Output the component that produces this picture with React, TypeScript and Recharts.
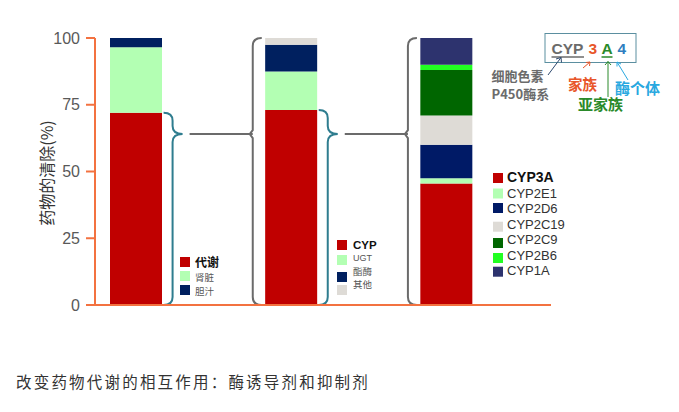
import React from "react";
import {
  BarChart,
  Bar,
  XAxis,
  YAxis,
  ReferenceLine,
  Customized,
} from "recharts";

// three stacked columns: total clearance -> metabolism -> CYP isoforms
const categories = ["总清除", "代谢", "CYP"];

const routeNames = ["代谢", "肾脏", "胆汁"];
const routeValues = [72, 24.5, 3.5];
const routeColors = ["#C00000", "#B3FFB3", "#00205F"];

const enzymeNames = ["CYP", "UGT", "酯酶", "其他"];
const enzymeValues = [73, 14.5, 10, 2.5];
const enzymeColors = ["#C00000", "#B3FFB3", "#00205F", "#DEDBD6"];

const isoformNames = ["CYP3A", "CYP2E1", "CYP2D6", "CYP2C19", "CYP2C9", "CYP2B6", "CYP1A"];
const isoformValues = [45.5, 2, 12.5, 11, 17, 2, 10];
const isoformColors = ["#C00000", "#B3FFB3", "#001A66", "#DEDBD6", "#006600", "#22FF22", "#2D336E"];

const yTicks = [0, 25, 50, 75, 100];
const BRACE_TIP = 64; // level where the braces point

const groups = [
  { names: routeNames, values: routeValues, colors: routeColors },
  { names: enzymeNames, values: enzymeValues, colors: enzymeColors },
  { names: isoformNames, values: isoformValues, colors: isoformColors },
];

const data = categories.map((cat, gi) => {
  const row: Record<string, any> = { cat };
  groups.forEach((g, gj) => {
    g.values.forEach((v, k) => {
      row[`g${gj}_${k}`] = gi === gj ? v : 0;
    });
  });
  return row;
});

const BAR_SIZE = 52;
const HALF = BAR_SIZE / 2;
const AXIS = "#F37240";
const CJK = "'Noto Sans CJK SC', sans-serif";
const LAT = "'Liberation Sans', Arial, sans-serif";

const braceOf = (top: number) => (props: any) => {
  const { x1, y1, y2 } = props;
  const tipY = y2 + (y1 - y2) * (BRACE_TIP / top);
  const x0 = x1 + HALF + 2;
  const xm = x0 + 9;
  const xt = x0 + 19;
  const r = 8;
  const d = `M${x0},${y1} Q${xm},${y1} ${xm},${y1 + r} L${xm},${tipY - r} Q${xm},${tipY} ${xt},${tipY} Q${xm},${tipY} ${xm},${tipY + r} L${xm},${y2 - r} Q${xm},${y2} ${x0},${y2}`;
  return <path d={d} fill="none" stroke="#2F7D8F" strokeWidth={2} />;
};

const LeftBracket = (props: any) => {
  const { x1, y1, y2 } = props;
  const tipY = y2 + (y1 - y2) * (BRACE_TIP / 100);
  const x0 = x1 - HALF - 3;
  const xm = x1 - HALF - 12;
  const r = 8;
  const d = `M${x0},${y1} Q${xm},${y1} ${xm},${y1 + r} L${xm},${tipY - 4} L${xm - 3},${tipY} L${xm},${tipY + 4} L${xm},${y2 - r} Q${xm},${y2} ${x0},${y2}`;
  return <path d={d} fill="none" stroke="#6B6B6B" strokeWidth={2} />;
};

const Connector = (props: any) => {
  const { x1, x2, y1 } = props;
  return <line x1={x1 + HALF + 28} x2={x2 - HALF - 12} y1={y1} y2={y1} stroke="#6B6B6B" strokeWidth={2} />;
};

// legend layout: square x, text x, square centres, text centres, font sizes
const legendLayout = [
  { sx: 180, tx: 195, sy: [262, 276, 290], ty: [261.5, 277, 290.5], fs: [12, 9.5, 9.5] },
  { sx: 337, tx: 353, sy: [245, 260, 277, 290], ty: [244.5, 258, 271, 284], fs: [11.5, 9, 9.5, 9.5] },
  {
    sx: 493,
    tx: 507,
    sy: [178, 193.5, 208, 226.7, 243, 258, 271.7],
    ty: [176.7, 193.3, 208.3, 224, 239, 255, 270.7],
    fs: [14, 13, 13, 13, 13, 13, 13],
  },
];

const Annotations = () => (
  <g>
    <text
      x={46}
      y={173}
      transform="rotate(-90 46 173)"
      textAnchor="middle"
      dominantBaseline="central"
      fontSize={16}
      fill="#333"
      fontFamily={CJK}
    >
      药物的清除(%)
    </text>

    {groups.map((g, gi) => {
      const L = legendLayout[gi];
      return (
        <g key={gi}>
          {g.names.map((n, k) => (
            <g key={n}>
              <rect x={L.sx} y={L.sy[k] - 5} width={10} height={10} fill={g.colors[k]} />
              <text
                x={L.tx}
                y={L.ty[k]}
                dominantBaseline="central"
                fontSize={L.fs[k]}
                fontWeight={k === 0 ? 700 : 400}
                fill={k === 0 ? "#111" : gi === 2 ? "#333" : "#555"}
                fontFamily={/[A-Z]/.test(n) ? LAT : CJK}
              >
                {n}
              </text>
            </g>
          ))}
        </g>
      );
    })}

    {/* CYP nomenclature key */}
    <rect x={545} y={33.5} width={91} height={29} fill="none" stroke="#5B8FA0" strokeWidth={1} />
    <text y={54} fontSize={15.5} fontWeight={700} fontFamily={LAT}>
      <tspan x={551.5} fill="#6B6B6B">CYP</tspan>
      <tspan x={588.5} fill="#E8562A">3</tspan>
      <tspan x={601.5} fill="#2A8A2A">A</tspan>
      <tspan x={617.5} fill="#2F7EC0">4</tspan>
    </text>
    <line x1={551.5} x2={584} y1={57} y2={57} stroke="#6B6B6B" strokeWidth={1.5} />
    <line x1={601.5} x2={612.5} y1={57} y2={57} stroke="#2A8A2A" strokeWidth={1.5} />

    <g fill="none" strokeWidth={1}>
      <path d="M548,75 L561,57.5 M556,59 L561,57.5 L561.5,62.5" stroke="#2E4A70" />
      <path d="M583,68 L590,62 M586,62.5 L590,62 L589.5,66" stroke="#E8562A" />
      <path d="M608,97 L608,61.5 M605,65 L608,61.5 L611,65" stroke="#2A8A2A" />
      <path d="M628,80 L617,62 M617,66.5 L617,62 L621,64" stroke="#29A8E0" />
    </g>

    <g fontFamily={CJK} fontWeight={700} dominantBaseline="central">
      <text x={491.5} y={75} fontSize={13} fill="#6B6B6B">细胞色素</text>
      <text x={491.5} y={93} fontSize={13} fill="#6B6B6B">P450酶系</text>
      <text x={568} y={83.5} fontSize={14.5} fill="#E8562A">家族</text>
      <text x={578} y={103.5} fontSize={15} fill="#2A8A2A">亚家族</text>
      <text x={615} y={87} fontSize={15} fill="#29A8E0">酶个体</text>
    </g>

    <text x={16} y={381} dominantBaseline="central" fontSize={15.5} letterSpacing={2.2} fill="#333" fontFamily={CJK}>
      改变药物代谢的相互作用：酶诱导剂和抑制剂
    </text>
  </g>
);

export default function App() {
  return (
    <div style={{ position: "absolute", left: 0, top: 0, width: 679, height: 412, background: "#fff" }}>
      <BarChart width={679} height={412} data={data} margin={{ top: 38, right: 128, left: 0, bottom: 106 }}>
        <XAxis
          dataKey="cat"
          height={1}
          tick={false}
          tickLine={false}
          axisLine={{ stroke: AXIS, strokeWidth: 2 }}
          padding={{ left: -37, right: 27.5 }}
        />
        <YAxis
          width={95}
          domain={[0, 100]}
          ticks={yTicks}
          tickSize={9}
          tickMargin={6}
          axisLine={{ stroke: AXIS, strokeWidth: 2 }}
          tickLine={{ stroke: AXIS, strokeWidth: 2 }}
          tick={{ fill: "#595959", fontSize: 16, fontFamily: LAT }}
        />
        {groups.map((g, gj) =>
          g.values.map((_, k) => (
            <Bar
              key={`g${gj}_${k}`}
              dataKey={`g${gj}_${k}`}
              stackId="s"
              fill={g.colors[k]}
              barSize={BAR_SIZE}
              isAnimationActive={false}
            />
          ))
        )}
        <ReferenceLine
          segment={[{ x: categories[0], y: routeValues[0] }, { x: categories[0], y: 0 }]}
          shape={braceOf(routeValues[0])}
        />
        <ReferenceLine
          segment={[{ x: categories[1], y: enzymeValues[0] }, { x: categories[1], y: 0 }]}
          shape={braceOf(enzymeValues[0])}
        />
        <ReferenceLine
          segment={[{ x: categories[0], y: BRACE_TIP }, { x: categories[1], y: BRACE_TIP }]}
          shape={Connector}
        />
        <ReferenceLine
          segment={[{ x: categories[1], y: BRACE_TIP }, { x: categories[2], y: BRACE_TIP }]}
          shape={Connector}
        />
        <ReferenceLine segment={[{ x: categories[1], y: 100 }, { x: categories[1], y: 0 }]} shape={LeftBracket} />
        <ReferenceLine segment={[{ x: categories[2], y: 100 }, { x: categories[2], y: 0 }]} shape={LeftBracket} />
        <Customized component={Annotations} />
      </BarChart>
    </div>
  );
}
